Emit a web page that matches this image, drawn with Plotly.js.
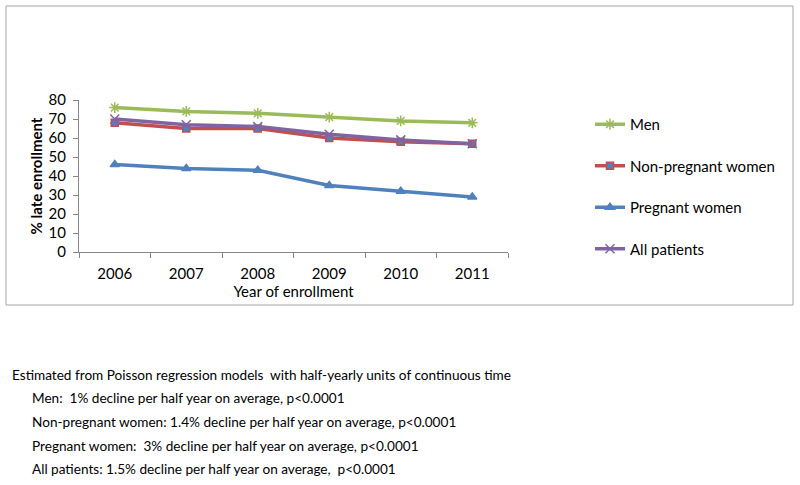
<!DOCTYPE html>
<html><head><meta charset="utf-8">
<script src="https://cdn.plot.ly/plotly-3.0.1.min.js"></script>
<style>body{margin:0;background:#fff}#chart{width:800px;height:485px}</style>
</head><body><div id="chart"></div>
<script>
const years = ['2006','2007','2008','2009','2010','2011'];
const men = [76, 74, 73, 71, 69, 68];
const nonPregnantWomen = [68, 65, 65, 60, 58, 57];
const pregnantWomen = [46, 44, 43, 35, 32, 29];
const allPatients = [70, 67, 66, 62, 59, 57];
const seriesNames = ['Men', 'Non-pregnant women', 'Pregnant women', 'All patients'];
const notes = [
  'Estimated from Poisson regression models  with half-yearly units of continuous time',
  'Men:  1% decline per half year on average, p<0.0001',
  'Non-pregnant women: 1.4% decline per half year on average, p<0.0001',
  'Pregnant women:  3% decline per half year on average, p<0.0001',
  'All patients: 1.5% decline per half year on average,  p<0.0001'
];

const FONT = 'Lato, "Open Sans", sans-serif';
const L = 79, R = 508, T = 100, B = 252;
const px = x => (x - L) / (R - L);
const py = y => (B - y) / (B - T);

const traces = [
  {y: men, name: seriesNames[0], color: '#9BBB59', symbol: 'asterisk-open', mcolor: '#9BBB59', mline: '#9BBB59', size: 9},
  {y: nonPregnantWomen, name: seriesNames[1], color: '#C0504D', symbol: 'square', mcolor: '#4F81BD', mline: '#C0504D', size: 7},
  {y: pregnantWomen, name: seriesNames[2], color: '#4F81BD', symbol: 'triangle-up', mcolor: '#4F81BD', mline: '#4F81BD', size: 8},
  {y: allPatients, name: seriesNames[3], color: '#8064A2', symbol: 'x-thin-open', mcolor: '#8064A2', mline: '#8064A2', size: 9}
].map((s, i) => ({
  type: 'scatter', mode: 'lines+markers', x: years, y: s.y, name: s.name,
  legendgroup: 'g' + i,
  line: {color: s.color, width: 3.5},
  marker: {symbol: s.symbol, color: s.mcolor, size: s.size, line: {color: s.mline, width: 1.5}}
}));

const annotations = notes.map((t, i) => ({
  xref: 'paper', yref: 'paper', x: px(i === 0 ? 10 : 30), y: py([375, 398, 422, 446, 469][i]),
  xanchor: 'left', yanchor: 'middle', showarrow: false, align: 'left',
  text: t, font: {family: FONT, size: 13.6, color: '#000'}
}));

const layout = {
  width: 800, height: 485,
  margin: {l: L, r: 800 - R, t: T, b: 485 - B, pad: 0},
  paper_bgcolor: '#fff', plot_bgcolor: '#fff',
  font: {family: FONT, size: 15, color: '#000'},
  showlegend: true,
  legend: {x: px(590), y: py(108), xanchor: 'left', yanchor: 'top', traceorder: 'grouped',
           tracegroupgap: 19, itemwidth: 30, maxheight: 400,
           font: {family: FONT, size: 15, color: '#000'}, bgcolor: 'rgba(0,0,0,0)'},
  xaxis: {type: 'category', range: [-0.5, 5.5], showline: true, linecolor: '#868686', linewidth: 1,
          ticks: 'outside', tickson: 'boundaries', ticklen: 5, tickcolor: '#868686', showgrid: false, zeroline: false,
          tickfont: {size: 15}, ticklabelstandoff: 8,
          title: {text: 'Year of enrollment', font: {size: 15}, standoff: 4}},
  yaxis: {range: [0, 80], dtick: 10, showline: true, linecolor: '#868686', linewidth: 1,
          ticks: 'outside', ticklen: 5, tickcolor: '#868686', showgrid: false, zeroline: false,
          tickfont: {size: 15}, ticklabelstandoff: 4,
          title: {text: '<b>% late enrollment</b>', font: {size: 15}, standoff: 2}},
  shapes: [{type: 'rect', xref: 'paper', yref: 'paper', x0: px(6), x1: px(793), y0: py(305), y1: py(6),
            line: {color: '#A6A6A6', width: 1}, fillcolor: 'rgba(0,0,0,0)', layer: 'below'}],
  annotations: annotations
};

Plotly.newPlot('chart', traces, layout, {displayModeBar: false, staticPlot: true});
</script></body></html>
